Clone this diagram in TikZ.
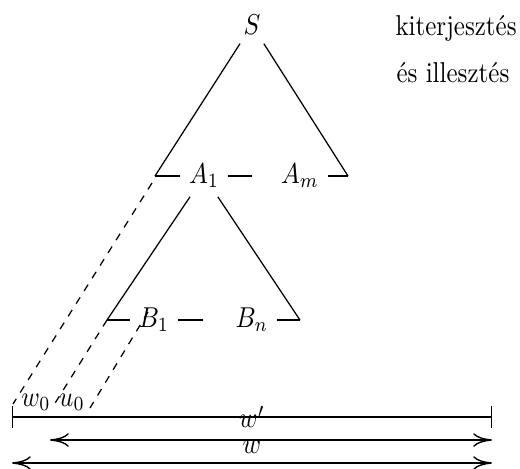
\documentclass[tikz,border=0pt]{standalone}
\usepackage{fontspec}
\usepackage{graphicx}
\usepackage{tikz}
\usetikzlibrary{arrows.meta}
\newcommand{\tallbox}[1]{\scalebox{1}[1.15]{#1}}
\tikzset{
  sym/.style      = {inner sep=3.33pt},
  note/.style     = {anchor=base west, inner sep=0pt},
  sub/.style      = {anchor=base, inner sep=0pt},
  tree/.style     = {line width=0.5pt},
  ext/.style      = {line width=0.5pt, dashed},
  spanbar/.style  = {{Bar[width=9pt]}-{Bar[width=9pt]}, line width=0.55pt},
  spanarr/.style  = {{Computer Modern Rightarrow[length=7.5pt,width=5.4pt]}-{Computer Modern Rightarrow[length=7.5pt,width=5.4pt]}, line width=0.55pt},
}

\begin{document}
\begin{tikzpicture}[x=0.4pt, y=-0.4pt]
\useasboundingbox (0,0) rectangle (520,468);

% ---------- Derivation tree ----------
\node[sym] (S)  at (252,25)  {\tallbox{$S$}};
\node[sym] (A1) at (204,176) {\tallbox{$A_1$}};
\node[sym] (Am) at (300,176) {\tallbox{$A_m$}};
\node[sym] (B1) at (154,320) {\tallbox{$B_1$}};
\node[sym] (Bn) at (252,320) {\tallbox{$B_n$}};

\coordinate (sl)  at (155,176);
\coordinate (sr)  at (348,176);
\coordinate (a1d) at (252,176);
\coordinate (bl)  at (107,320);
\coordinate (br)  at (300,320);
\coordinate (b1d) at (203,320);

% side notes
\node[note] (ext) at (395,35) {\tallbox{kiterjesztés}};
\node[note] (fit) at (396,82) {\tallbox{és illesztés}};

% ---------- Edges: tree ----------
\draw[tree] (S) -- (sl);
\draw[tree] (S) -- (sr);
\draw[tree] (sl) -- (A1);
\draw[tree] (A1) -- (a1d);
\draw[tree] (Am) -- (sr);
\draw[tree] (A1) -- (bl);
\draw[tree] (A1) -- (br);
\draw[tree] (bl) -- (B1);
\draw[tree] (B1) -- (b1d);
\draw[tree] (Bn) -- (br);

% ---------- Dashed extensions ----------
\coordinate (d1s) at (152,183);
\coordinate (d1e) at (13,404);
\coordinate (d2e) at (52,408);
\coordinate (d3s) at (148,312);
\coordinate (d3e) at (90,408);
\draw[ext] (d1s) -- (d1e);
\draw[ext] (bl) -- (d2e);
\draw[ext] (d3s) -- (d3e);

\node[sub] (w0) at (36,406) {\tallbox{$w_0$}};
\node[sub] (u0) at (72,406) {\tallbox{$u_0$}};

% ---------- Spans ----------
\coordinate (wl) at (12,417);
\coordinate (wr) at (492,417);
\coordinate (ul) at (50,440);
\coordinate (ur) at (492,440);
\coordinate (vl) at (12,463);
\coordinate (vr) at (492,463);
\draw[spanbar] (wl) -- node {\tallbox{$w'$}} (wr);
\draw[spanarr] (ul) -- (ur);
\draw[spanarr] (vl) -- node[above] {\tallbox{$w$}} (vr);

\end{tikzpicture}
\end{document}
